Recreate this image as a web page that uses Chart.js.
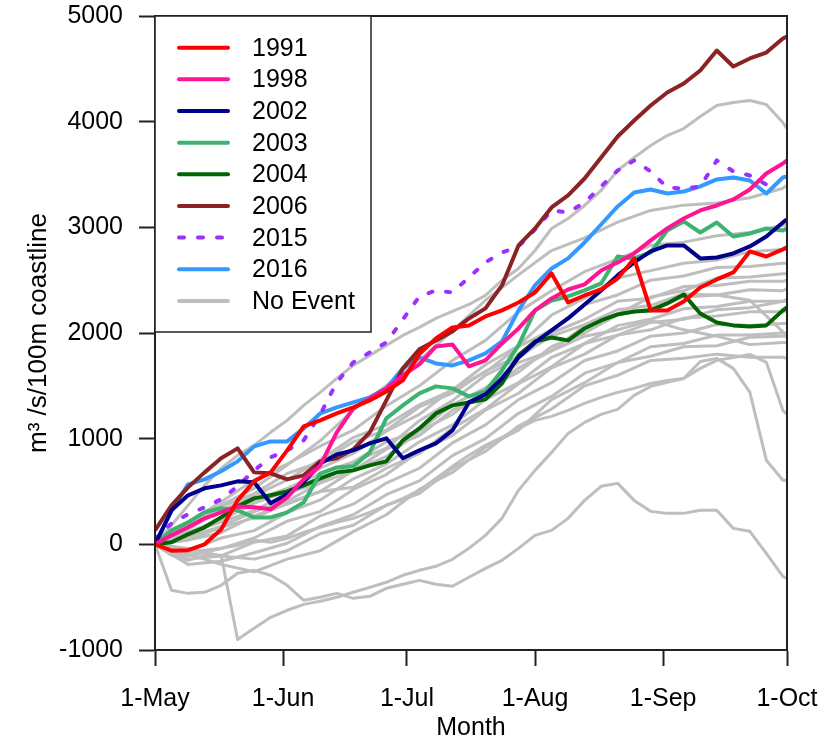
<!DOCTYPE html>
<html>
<head>
<meta charset="utf-8">
<script src="https://cdn.jsdelivr.net/npm/chart.js@4/dist/chart.umd.min.js"></script>
<style>
html,body{margin:0;padding:0;background:#fff;}
#c{display:block;}
</style>
</head>
<body>
<canvas id="c" width="828" height="743"></canvas>
<script>
// ---------- DATA ----------
const days = [0,4,8,12,16,20,24,28,32,36,40,44,48,52,56,60,64,68,72,76,80,84,88,92,96,100,104,108,112,116,120,124,128,132,136,140,144,148,152,153];
const greyDays = [0,8,16,24,32,40,48,56,64,72,80,88,96,104,112,120,128,136,144,152,153];
const tickDays = [0,31,61,92,123,153];
const tickLabels = ["1-May","1-Jun","1-Jul","1-Aug","1-Sep","1-Oct"];

const y1991 = [0,-60,-55,0,140,416,596,681,889,1116,1173,1239,1296,1362,1447,1551,1800,1949,2053,2072,2157,2214,2289,2384,2564,2289,2355,2412,2516,2706,2214,2214,2299,2431,2507,2573,2772,2724,2791,2810];
const y1998 = [0,85,161,246,303,359,350,331,445,615,747,1060,1287,1381,1476,1599,1703,1873,1892,1684,1741,1901,2043,2214,2327,2412,2460,2592,2668,2753,2876,2989,3084,3160,3207,3264,3358,3510,3604,3633];
const y2002 = [0,322,464,530,558,596,587,388,473,587,766,851,889,955,1003,814,889,955,1078,1343,1419,1570,1769,1911,2024,2138,2270,2403,2545,2668,2772,2829,2829,2706,2715,2753,2819,2914,3046,3075];
const y2003 = [0,132,208,303,341,322,255,255,303,397,670,728,738,870,1192,1315,1428,1495,1476,1400,1447,1646,1883,2214,2308,2346,2403,2469,2724,2706,2762,2970,3056,2951,3046,2914,2942,2989,2970,2990];
const y2004 = [0,19,95,161,255,359,435,464,501,558,624,681,700,747,785,984,1097,1239,1315,1343,1372,1523,1788,1920,1958,1930,2043,2119,2176,2204,2214,2280,2365,2185,2100,2072,2062,2072,2214,2242];
const y2006 = [132,369,539,681,814,908,681,672,615,653,785,814,899,1060,1362,1665,1845,1930,2015,2138,2233,2450,2829,2990,3188,3302,3462,3661,3860,4011,4153,4276,4361,4484,4673,4522,4598,4654,4787,4806];
const y2015 = [50,199,284,350,426,549,700,823,889,984,1230,1532,1722,1816,1911,2128,2346,2403,2384,2526,2668,2762,2819,2980,3160,3141,3235,3387,3538,3633,3529,3377,3368,3387,3633,3529,3491,3406,null,null];
const y2016 = [0,322,568,615,691,785,927,974,974,1097,1239,1296,1343,1391,1476,1665,1769,1712,1693,1741,1807,1920,2214,2450,2611,2706,2857,3027,3198,3330,3358,3320,3339,3387,3453,3472,3443,3320,3472,3481];

// No-event years sampled on the fine grid (distinct lines)
const ne1 = [0,180,369,558,719,842,937,1060,1173,1315,1438,1570,1693,1788,1883,1977,2053,2138,2204,2270,2356,2497,2611,2781,2989,3084,3207,3349,3538,3661,3775,3869,3935,4049,4153,4181,4200,4162,3992,3935];
const ne2 = [0,-104,-151,-104,-104,-900,-795,-691,-624,-568,-539,-501,-454,-407,-359,-293,-246,-208,-142,-38,85,246,511,700,870,1050,1154,1230,1277,1410,1495,1533,1570,1731,1760,1665,1440,795,606,606];
const ne3 = [0,-435,-464,-454,-388,-274,-246,-293,-388,-530,-501,-464,-511,-492,-416,-378,-341,-378,-397,-312,-227,-151,-38,85,132,246,416,549,577,416,312,293,293,322,322,151,123,-85,-303,-322];
const ne4 = [0,-38,-76,-57,-38,-9,38,19,57,114,161,208,246,303,369,435,511,624,738,842,937,1012,1097,1173,1211,1268,1334,1391,1438,1476,1523,1551,1570,1665,1741,1769,1797,1722,1268,1230];
// No-event years sampled on the coarse grid
const ne5  = [0,180,370,530,750,980,1270,1500,1740,2020,2310,2550,2780,2900,3050,3160,3210,3230,3280,3370,3400];
const ne6  = [0,210,400,610,760,930,1080,1310,1500,1740,1930,2200,2400,2580,2700,2830,2860,2920,2950,3020,3030];
const ne7  = [0,140,320,460,610,800,1010,1130,1320,1460,1700,1880,2170,2330,2520,2590,2660,2690,2770,2790,2810];
const ne8  = [0,90,230,390,500,720,860,1070,1230,1470,1630,1870,2030,2270,2360,2500,2540,2620,2630,2660,2660];
const ne9  = [0,110,210,320,480,590,780,910,1170,1360,1600,1760,2000,2130,2300,2330,2440,2450,2490,2490,2500];
const ne10 = [0,40,160,250,390,500,700,830,1070,1230,1470,1630,1870,2000,2170,2230,2340,2360,2410,2400,2420];
const ne11 = [0,-60,60,130,300,420,620,760,970,1130,1370,1530,1770,1900,2070,2130,2230,2250,2300,2300,2320];
const ne12 = [0,-110,-40,60,220,310,520,660,880,1030,1270,1430,1670,1800,1980,2030,2140,2160,2200,2200,2210];
const ne13 = [0,-140,-110,20,80,270,380,580,720,960,1130,1370,1530,1740,1830,1970,2000,2080,2070,2090,2090];
const ne14 = [0,-190,-160,-80,10,170,280,470,600,840,1000,1240,1400,1620,1720,1870,1900,1980,1980,2000,2000];
const ne15 = [0,110,240,420,530,670,780,970,1080,1320,1480,1720,1830,1970,2030,2120,2030,1970,1890,1910,1910];
const ne16 = [0,-40,-110,-140,-60,100,180,370,480,720,880,1120,1280,1500,1600,1740,1760,1800,1770,1770,1760];
const ne17 = [0,170,360,480,670,780,970,1080,1300,1430,1640,1780,1970,2080,2220,2260,2370,2360,2310,2010,1950];
const ne18 = [0,70,170,310,410,580,700,900,1030,1270,1430,1670,1830,2070,2180,2340,2400,2520,2530,2560,2560];
const ne19 = [0,-90,-190,-260,-140,-60,120,280,520,680,920,1080,1370,1530,1720,1780,1870,1880,1960,1970,1990];
const ne20 = [0,40,110,270,380,500,540,720,860,1100,1280,1520,1680,1900,1980,2100,2130,2220,2240,2300,2300];

const eventNames = ["1991","1998","2002","2003","2004","2006","2015","2016"];
const eventValues = [y1991,y1998,y2002,y2003,y2004,y2006,y2015,y2016];
const eventColors = ["#ff0000","#ff1493","#00008b","#3cb371","#006400","#8b2323","#9b30ff","#3399ff"];
const noEventLabel = "No Event";
const fineNoEvent = [ne1,ne2,ne3,ne4];
const coarseNoEvent = [ne5,ne6,ne7,ne8,ne9,ne10,ne11,ne12,ne13,ne14,ne15,ne16,ne17,ne18,ne19,ne20];

// ---------- BUILD ----------
const FONT = "'Liberation Sans', Arial, Helvetica, sans-serif";
const GREY = "#bebebe";
function pts(xs, ys){ return xs.map((d,i)=>({x:d, y:ys[i]})); }

const datasets = [];
eventNames.forEach((n,i)=>{
  datasets.push({
    label:n, data:pts(days,eventValues[i]),
    borderColor:eventColors[i], borderWidth:4,
    borderDash: n==="2015" ? [4,14] : [],
    borderCapStyle: n==="2015" ? "round" : "butt",
    borderJoinStyle:"round",
    pointRadius:0, tension:0, fill:false, spanGaps:false
  });
});
fineNoEvent.forEach(v=>datasets.push({label:noEventLabel, data:pts(days,v), borderColor:GREY, borderWidth:3, borderJoinStyle:"round", pointRadius:0, tension:0, fill:false}));
coarseNoEvent.forEach(v=>datasets.push({label:noEventLabel, data:pts(greyDays,v), borderColor:GREY, borderWidth:3, borderJoinStyle:"round", pointRadius:0, tension:0, fill:false}));

const overlay = {
  id:"overlay",
  afterDatasetsDraw(chart){
    const ctx = chart.ctx, a = chart.chartArea;
    ctx.save();
    ctx.strokeStyle = "#222"; ctx.lineWidth = 2;
    ctx.strokeRect(a.left, a.top, a.right-a.left, a.bottom-a.top);
    // legend box
    const lx = a.left, ly = a.top, lw = 216, lh = 316;
    ctx.fillStyle = "#fff";
    ctx.fillRect(lx, ly, lw, lh);
    ctx.strokeStyle = "#222"; ctx.lineWidth = 1.5;
    ctx.strokeRect(lx, ly, lw, lh);
    const entries = eventNames.map((n,i)=>({t:n, c:eventColors[i], dash:n==="2015"}));
    entries.push({t:noEventLabel, c:GREY, dash:false});
    ctx.font = "25px " + FONT;
    ctx.textBaseline = "middle";
    ctx.textAlign = "left";
    entries.forEach((e,i)=>{
      const yy = ly + 31.66*(i+1);
      ctx.beginPath();
      ctx.strokeStyle = e.c; ctx.lineWidth = 4;
      ctx.lineCap = "round";
      ctx.setLineDash(e.dash ? [5,14] : []);
      ctx.moveTo(lx+24, yy); ctx.lineTo(lx+73, yy);
      ctx.stroke();
      ctx.setLineDash([]);
      ctx.fillStyle = "#000";
      ctx.fillText(e.t, lx+97, yy+1);
    });
    ctx.restore();
  }
};

Chart.defaults.color = "#000";
Chart.defaults.font.family = FONT;

new Chart(document.getElementById("c"), {
  type:"line",
  data:{datasets},
  plugins:[overlay],
  options:{
    responsive:false, animation:false, devicePixelRatio:1,
    layout:{padding:{left:0, top:16, right:41, bottom:0}},
    plugins:{legend:{display:false}, tooltip:{enabled:false}},
    scales:{
      x:{
        type:"linear", min:0, max:153,
        afterBuildTicks:(s)=>{ s.ticks = tickDays.map(v=>({value:v})); },
        afterFit:(s)=>{ s.height = 93; s.paddingLeft = 0; s.paddingRight = 0; },
        ticks:{autoSkip:false, maxRotation:0, padding:18, font:{size:25}, color:"#000",
          callback:(v)=>{ const k = tickDays.indexOf(v); return k>=0 ? tickLabels[k] : ""; }},
        grid:{display:true, drawOnChartArea:false, drawTicks:true, tickLength:16, tickWidth:2, tickColor:"#222"},
        border:{display:true, color:"#222", width:2},
        title:{display:true, text:"Month", font:{size:25}, color:"#000", padding:{top:0, bottom:0}}
      },
      y:{
        min:-1000, max:5000,
        afterFit:(s)=>{ s.width = 155; s.paddingTop = 0; s.paddingBottom = 0; },
        ticks:{stepSize:1000, padding:16, font:{size:25}, color:"#000", callback:(v)=>String(v)},
        grid:{display:true, drawOnChartArea:false, drawTicks:true, tickLength:16, tickWidth:2, tickColor:"#222"},
        border:{display:true, color:"#222", width:2},
        title:{display:true, text:"m\u00B3 /s/100m coastline", font:{size:26}, color:"#000", padding:{top:23, bottom:0}}
      }
    }
  }
});
</script>
</body>
</html>
